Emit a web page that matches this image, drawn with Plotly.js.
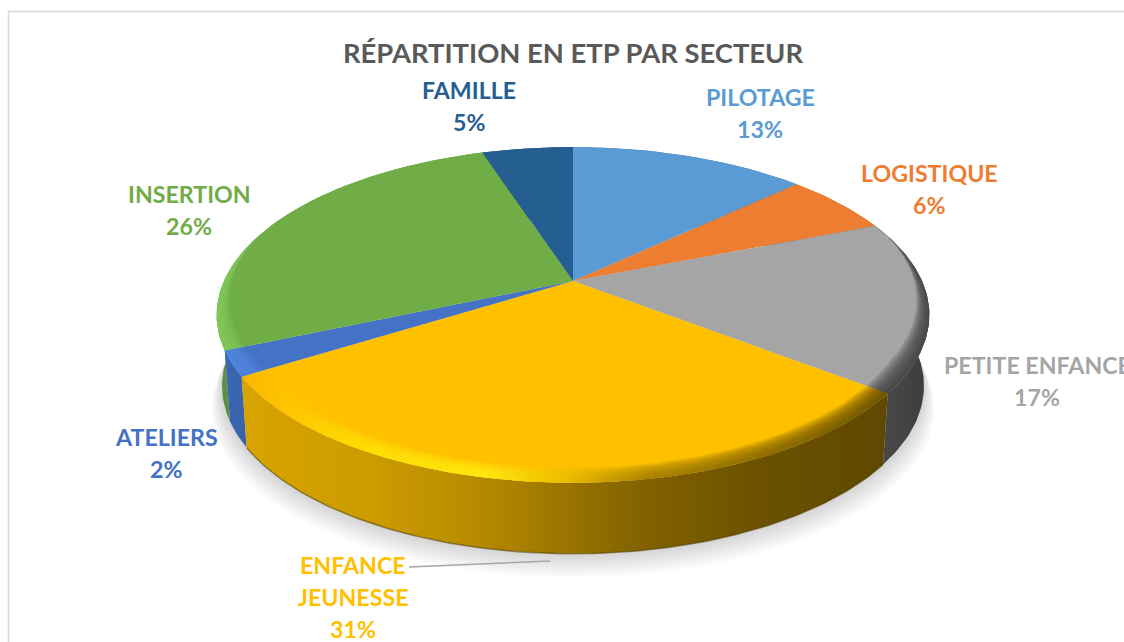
<!DOCTYPE html>
<html>
<head>
<meta charset="utf-8">
<script src="https://cdn.plot.ly/plotly-3.0.1.min.js"></script>
<style>html,body{margin:0;padding:0;background:#fff;overflow:hidden}#chart{width:1124px;height:642px}</style>
</head>
<body>
<div id="chart"></div>
<script>
// ---- data ----
const categories = ['PILOTAGE', 'LOGISTIQUE', 'PETITE ENFANCE', 'ENFANCE<br>JEUNESSE', 'ATELIERS', 'INSERTION', 'FAMILLE'];
const values = [13, 6, 16.5, 30.6, 2.4, 26.49, 5.01];
const chartTitle = 'RÉPARTITION EN ETP PAR SECTEUR';

// ---- styles ----
const sliceColors = ['#5B9BD5', '#ED7D31', '#A5A5A5', '#FFC000', '#4472C4', '#70AD47', '#255E91'];
const wallScales = [
  [[0,'#4a7ab0'],[1,'#4a7ab0']],
  [[0,'#c0601f'],[1,'#c0601f']],
  [[0,'#4a4a4a'],[0.5,'#454545'],[1,'#3c3c3c']],
  [[0,'#d8a400'],[0.2,'#cc9b00'],[0.35,'#b98d00'],[0.6,'#856500'],[0.8,'#6b5100'],[1,'#5f4800']],
  [[0,'#3a67b4'],[1,'#3a63a8']],
  [[0,'#5c9040'],[1,'#5c9040']],
  [[0,'#1d4a73'],[1,'#1d4a73']]
];
const rimScales = [
  null, null,
  [[0,'#3e3e3e'],[1,'#3e3e3e']],
  [[0,'#f8b400'],[0.17,'#ffe000'],[0.38,'#ffee10'],[0.5,'#e8bc00'],[0.63,'#a07c00'],[1,'#604900']],
  [[0,'#4f86e0'],[1,'#4f86e0']],
  [[0,'#82c95a'],[1,'#82c95a']],
  null
];
const labelColors = sliceColors;
const labelAnchors = [[760,97],[929,173],[1037,365],[353,565],[166,437],[189,194],[469,90]];
const LINE_STEP = 32;

// ---- projection of the tilted disc ----
const CX = 573, CY = 281, A = 349, B = 161, K = 0.202, DEPTH = 71, BOTTOM_SHRINK = 0.985;
const DEG = Math.PI / 180;
function project(theta, r, level) {
  const c = r * Math.sin(theta), s = r * Math.cos(theta), w = 1 + K * s;
  let x = CX + A * c / w, y = CY - B * s / w;
  if (level === 1) { x = CX + (x - CX) * BOTTOM_SHRINK; y += DEPTH; }
  return [x, y];
}
function angles(a0, a1) {
  const n = Math.max(2, Math.ceil((a1 - a0) / DEG));
  const out = [];
  for (let i = 0; i <= n; i++) out.push(a0 + (a1 - a0) * i / n);
  return out;
}
function poly(points) { return {x: points.map(p => p[0]), y: points.map(p => p[1])}; }
function fillTrace(points, extra) {
  const d = poly(points);
  return Object.assign({type: 'scatter', mode: 'lines', x: d.x, y: d.y, fill: 'toself',
    line: {width: 0}, hoverinfo: 'skip', showlegend: false}, extra);
}

const total = values.reduce((a, b) => a + b, 0);
const spans = [];
values.reduce((acc, v) => { const end = acc + v / total * 2 * Math.PI; spans.push([acc, end]); return end; }, 0);

const traces = [];

// soft shadow under the body
const shadowSteps = 14;
for (let i = shadowSteps; i >= 1; i--) {
  const f = i / shadowSteps;
  const pts = angles(0, 2 * Math.PI).map(t => {
    const p = project(t, 1, 1);
    return [CX + (p[0] - CX) * (1 + 0.03 * f), p[1] + 24 * f];
  });
  traces.push(fillTrace(pts, {fillcolor: 'rgba(0,0,0,0.011)'}));
}

// side walls, drawn in order so the front slice sits on top
const wallOrder = [0, 1, 6, 5, 2, 4, 3];
wallOrder.forEach(i => {
  const ts = angles(spans[i][0], spans[i][1]);
  const pts = ts.map(t => project(t, 1, 0)).concat(ts.slice().reverse().map(t => project(t, 1, 1)));
  const xs = pts.map(p => p[0]);
  traces.push(fillTrace(pts, {
    fillgradient: {type: 'horizontal', colorscale: wallScales[i], start: Math.min(...xs), stop: Math.max(...xs)},
    name: categories[i]
  }));
});

// darker line on the lower edge of the front wall
{
  const i = 3;
  const d = poly(angles(spans[i][0], spans[i][1]).map(t => project(t, 1, 1)));
  traces.push({type: 'scatter', mode: 'lines', x: d.x, y: d.y,
    line: {color: 'rgba(80,60,0,0.55)', width: 1.5}, hoverinfo: 'skip', showlegend: false});
}

// top faces
values.forEach((v, i) => {
  const pts = [[CX, CY]].concat(angles(spans[i][0], spans[i][1]).map(t => project(t, 1, 0)));
  traces.push(fillTrace(pts, {fillcolor: sliceColors[i], name: categories[i]}));
});

// bevelled rim: thin at the back, wide at the front, feathered on the inside
function rimWidth(t) { return 0.06 * Math.min(1, Math.max(0, (0.3 - Math.cos(t)) / 0.8)); }
const rimSteps = [1, 0.9, 0.8, 0.7, 0.6, 0.5, 0.4, 0.3, 0.2, 0.1];
values.forEach((v, i) => {
  if (!rimScales[i]) return;
  rimSteps.forEach(f => {
    const ts = angles(spans[i][0], spans[i][1]);
    const outer = ts.map(t => project(t, 1, 0));
    const inner = ts.slice().reverse().map(t => project(t, 1 - rimWidth(t) * f, 0));
    const pts = outer.concat(inner);
    const xs = outer.map(p => p[0]);
    traces.push(fillTrace(pts, {
      fillgradient: {type: 'horizontal', colorscale: rimScales[i], start: Math.min(...xs), stop: Math.max(...xs)},
      opacity: 0.2
    }));
  });
});

// data labels, one text per line so the line pitch matches
const annotations = [];
values.forEach((v, i) => {
  const lines = categories[i].split('<br>').concat(Math.round(v / total * 100) + '%');
  lines.forEach((line, j) => annotations.push({
    x: labelAnchors[i][0], y: labelAnchors[i][1] + j * LINE_STEP, xref: 'x', yref: 'y',
    xanchor: 'center', yanchor: 'middle', align: 'center', showarrow: false,
    text: line,
    font: {family: 'Lato, Carlito, sans-serif', size: 23.2, color: labelColors[i], weight: 700}
  }));
});

const layout = {
  width: 1124, height: 642,
  margin: {l: 0, r: 0, t: 0, b: 0},
  paper_bgcolor: '#ffffff', plot_bgcolor: 'rgba(0,0,0,0)',
  showlegend: false,
  title: {text: chartTitle, x: 573 / 1124, xanchor: 'center', xref: 'paper',
    y: 1 - 53 / 642, yanchor: 'middle', yref: 'paper',
    font: {family: 'Lato, Carlito, sans-serif', size: 27.4, color: '#595959', weight: 700}},
  xaxis: {range: [0, 1124], visible: false, fixedrange: true},
  yaxis: {range: [642, 0], visible: false, fixedrange: true},
  annotations: annotations,
  shapes: [
    {type: 'rect', xref: 'x', yref: 'y', x0: 8.5, y0: 11.5, x1: 1140, y1: 660, line: {color: '#d9d9d9', width: 1.5}, layer: 'below'},
    {type: 'line', xref: 'x', yref: 'y', x0: 409, y0: 567, x1: 550, y1: 561, line: {color: '#a6a6a6', width: 1.5}, layer: 'above'}
  ]
};
Plotly.newPlot('chart', traces, layout, {displayModeBar: false, responsive: false});
</script>
</body>
</html>
